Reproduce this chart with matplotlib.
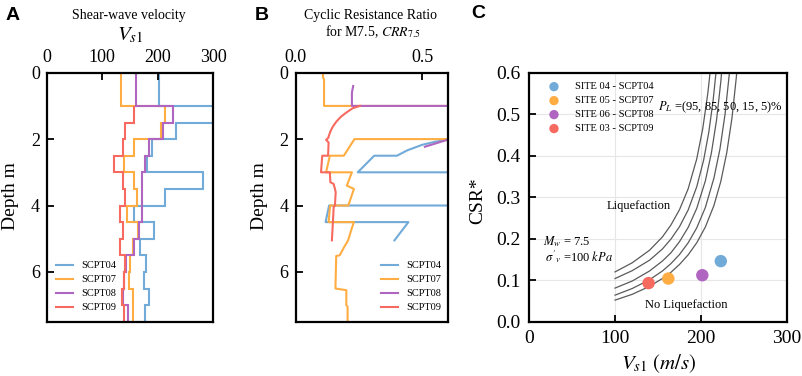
import matplotlib.pyplot as plt
from matplotlib.lines import Line2D

plt.rcParams['font.family'] = ['Liberation Serif', 'DejaVu Serif']
plt.rcParams['mathtext.fontset'] = 'stix'

# colours of the four soundings
c04 = '#72aad8'
c07 = '#ffad42'
c08 = '#b065c0'
c09 = '#f76a5f'
names = ['SCPT04', 'SCPT07', 'SCPT08', 'SCPT09']

# Panel A: shear-wave velocity Vs1 layers (m/s)
depth_edges = [0.0, 1.0, 1.5, 2.0, 2.5, 3.0, 3.5, 4.0, 4.5, 5.0, 5.5, 6.0, 6.5, 7.0, 7.6]
vs_04 = [202, 330, 233, 190, 180, 281, 214, 157, 194, 168, 179, 175, 185, 178]
vs_07 = [134, 214, 207, 157, 139, 158, 162, 144, 164, 156, 150, 149, 155, 155]
vs_08 = [161, 228, 210, 184, 177, 171, 171, 171, 166, 157, 143, 140, 137, 147]
vs_09 = [157, 142, 137, 122, 137, 142, 132, 138, 132, 141, 139, 136, 140]  # starts at 1 m

# Panel B: CRR7.5 profiles (depth, value)
crr_04_depth = [1.95, 2.08, 2.17, 2.34, 2.5, 2.5, 3.0, 3.0, 4.0, 4.0, 4.5, 4.5, 5.05]
crr_04 = [0.65, 0.55, 0.50, 0.44, 0.40, 0.31, 0.245, 0.8, 0.8, 0.132, 0.118, 0.445, 0.39]
crr_07_depth = [0.0, 0.15, 0.2, 1.0, 1.0, 2.0, 2.0, 2.5, 2.5, 3.0, 3.0, 3.4, 3.5, 4.0, 4.0, 4.5,
                4.5, 4.7, 5.05, 5.27, 5.5, 5.52, 6.5, 6.55, 7.0, 7.05, 7.6]
crr_07 = [0.108, 0.108, 0.112, 0.112, 0.8, 0.8, 0.232, 0.19, 0.135, 0.12, 0.222, 0.202, 0.23, 0.208,
          0.136, 0.13, 0.23, 0.221, 0.207, 0.19, 0.174, 0.16, 0.157, 0.2, 0.2, 0.205, 0.205]
crr_08_depth = [0.4, 0.6, 1.0, 1.0, 1.9, 2.23]
crr_08 = [0.227, 0.222, 0.222, 0.9, 0.65, 0.51]
crr_09_depth = [1.0, 1.07, 1.2, 1.33, 1.47, 1.62, 1.77, 1.97, 2.02, 2.1, 2.5, 2.5, 3.0, 3.0,
                3.3, 3.35, 3.5, 3.6, 4.0, 4.05, 4.5, 5.05]
crr_09 = [0.253, 0.225, 0.2, 0.178, 0.161, 0.147, 0.137, 0.128, 0.12, 0.13, 0.128, 0.105, 0.10,
          0.135, 0.137, 0.15, 0.155, 0.158, 0.155, 0.15, 0.147, 0.143]

# Panel C: site points and probability curves
site_labels = ['SITE 04 - SCPT04', 'SITE 05 - SCPT07', 'SITE 06 - SCPT08', 'SITE 03 - SCPT09']
site_vs = [223, 162, 201.5, 139]
site_csr = [0.146, 0.104, 0.112, 0.093]

pl95_vs = [100, 120, 140, 155, 165, 175, 185, 195, 202, 208, 212]
pl95_csr = [0.120, 0.142, 0.172, 0.204, 0.233, 0.270, 0.320, 0.392, 0.465, 0.552, 0.629]
pl85_vs = [100, 120, 140, 155, 165, 175, 185, 195, 203, 209, 214, 218]
pl85_csr = [0.104, 0.123, 0.148, 0.175, 0.199, 0.229, 0.269, 0.325, 0.389, 0.456, 0.532, 0.612]
pl50_vs = [100, 120, 140, 155, 165, 175, 185, 195, 205, 212, 218, 223, 226]
pl50_csr = [0.081, 0.098, 0.122, 0.146, 0.166, 0.193, 0.227, 0.273, 0.339, 0.406, 0.485, 0.578, 0.651]
pl15_vs = [100, 120, 140, 155, 165, 175, 185, 195, 205, 215, 222, 228, 233, 236]
pl15_csr = [0.064, 0.080, 0.101, 0.122, 0.140, 0.162, 0.190, 0.226, 0.275, 0.346, 0.416, 0.501, 0.599, 0.677]
pl05_vs = [100, 120, 140, 155, 165, 175, 185, 195, 205, 215, 223, 230, 236, 241, 244]
pl05_csr = [0.052, 0.066, 0.085, 0.104, 0.119, 0.138, 0.161, 0.190, 0.228, 0.280, 0.338, 0.408, 0.491, 0.588, 0.663]

fig = plt.figure(figsize=(8.03, 3.76), dpi=100)
axA = fig.add_axes([0.0582, 0.1444, 0.2071, 0.6622])
axB = fig.add_axes([0.3682, 0.1444, 0.1893, 0.6622])
axC = fig.add_axes([0.6588, 0.1444, 0.3213, 0.6622])

for ax in (axA, axB, axC):
    for s in ax.spines.values():
        s.set_linewidth(1.6)
    ax.tick_params(direction='in', length=5, width=1.3, labelsize=13, pad=5)

lw = 1.5
handles = [Line2D([], [], color=c, lw=lw) for c in (c04, c07, c08, c09)]

# Panel A
axA.stairs(vs_04, depth_edges, orientation='horizontal', baseline=None, color=c04, lw=lw)
axA.stairs(vs_07, depth_edges, orientation='horizontal', baseline=None, color=c07, lw=lw)
axA.stairs(vs_08, depth_edges, orientation='horizontal', baseline=None, color=c08, lw=lw)
axA.stairs(vs_09, depth_edges[1:], orientation='horizontal', baseline=None, color=c09, lw=lw)
axA.set_xlim(0, 300)
axA.set_ylim(7.5, 0)
axA.set_xticks([0, 100, 200, 300])
axA.set_yticks([0, 2, 4, 6])
axA.xaxis.tick_top()
axA.tick_params(top=True, bottom=False, left=True, right=False)
axA.legend(handles, names, loc='lower left', bbox_to_anchor=(0.0, 0.0), frameon=False,
           fontsize=7.5, handlelength=1.6, labelspacing=0.45)

# Panel B
axB.plot(crr_04, crr_04_depth, color=c04, lw=lw)
axB.plot(crr_07, crr_07_depth, color=c07, lw=lw)
axB.plot(crr_08, crr_08_depth, color=c08, lw=lw)
axB.plot(crr_09, crr_09_depth, color=c09, lw=lw)
axB.set_xlim(0, 0.6)
axB.set_ylim(7.5, 0)
axB.set_xticks([0.0, 0.5])
axB.set_xticklabels(['0.0', '0.5'])
axB.set_yticks([0, 2, 4, 6])
axB.xaxis.tick_top()
axB.tick_params(top=True, bottom=False, left=True, right=False)
axB.legend(handles, names, loc='lower right', bbox_to_anchor=(1.02, 0.0), frameon=False,
           fontsize=7.5, handlelength=1.6, labelspacing=0.45)

# Panel C
axC.set_axisbelow(True)
axC.grid(True, color='#e6e6e6', lw=0.8)
for vs, csr in ((pl95_vs, pl95_csr), (pl85_vs, pl85_csr), (pl50_vs, pl50_csr),
                (pl15_vs, pl15_csr), (pl05_vs, pl05_csr)):
    axC.plot(vs, csr, color='#5a5a5a', lw=0.9)
for x, y, c, lab in zip(site_vs, site_csr, (c04, c07, c08, c09), site_labels):
    axC.scatter(x, y, s=80, color=c, edgecolors='none', zorder=3, label=lab)
axC.set_xlim(0, 300)
axC.set_ylim(0, 0.6)
axC.set_xticks([0, 100, 200, 300])
axC.set_yticks([0.0, 0.1, 0.2, 0.3, 0.4, 0.5, 0.6])
axC.set_yticklabels(['0.0', '0.1', '0.2', '0.3', '0.4', '0.5', '0.6'])
axC.tick_params(labelsize=14, pad=6)
axC.legend(loc='upper left', bbox_to_anchor=(0.02, 1.0), frameon=False, fontsize=7.5,
           markerscale=0.75, handletextpad=1.0, labelspacing=0.45)
axC.text(127, 0.279, 'Liquefaction', ha='center', va='center', fontsize=9)
axC.text(182.6, 0.04, 'No Liquefaction', ha='center', va='center', fontsize=9)
axC.text(150, 0.517, r'$P_L$ =(95, 85, 50, 15, 5)%', ha='left', va='center', fontsize=9)
axC.text(16, 0.194, r'$M_w$ = 7.5', ha='left', va='center', fontsize=9)
axC.text(19, 0.158, r"$\sigma'_v$ =100 $kPa$", ha='left', va='center', fontsize=9)

# titles and labels
W, H = 803.0, 376.0
def ftext(px, py, s, **kw):
    fig.text(px / W, 1 - py / H, s, ha='center', va='center', **kw)

ftext(13, 15, 'A', fontsize=14, fontweight='bold', family='Liberation Sans')
ftext(262, 15, 'B', fontsize=14, fontweight='bold', family='Liberation Sans')
ftext(478, 14, 'C', fontsize=14, fontweight='bold', family='Liberation Sans')
ftext(129, 15, 'Shear-wave velocity', fontsize=10)
ftext(130, 35, r'$V_{s1}$', fontsize=15)
ftext(371, 15, 'Cyclic Resistance Ratio', fontsize=10)
ftext(373, 32, r'for M7.5, $CRR_{7.5}$', fontsize=10)
ftext(11, 196, 'Depth m', fontsize=14, rotation=90)
ftext(259, 196, 'Depth m', fontsize=14, rotation=90)
ftext(478, 201, 'CSR*', fontsize=14, rotation=90)
ftext(659, 364, r'$V_{s1}$ $(m/s)$', fontsize=15)

fig.savefig('out.png', dpi=100)
